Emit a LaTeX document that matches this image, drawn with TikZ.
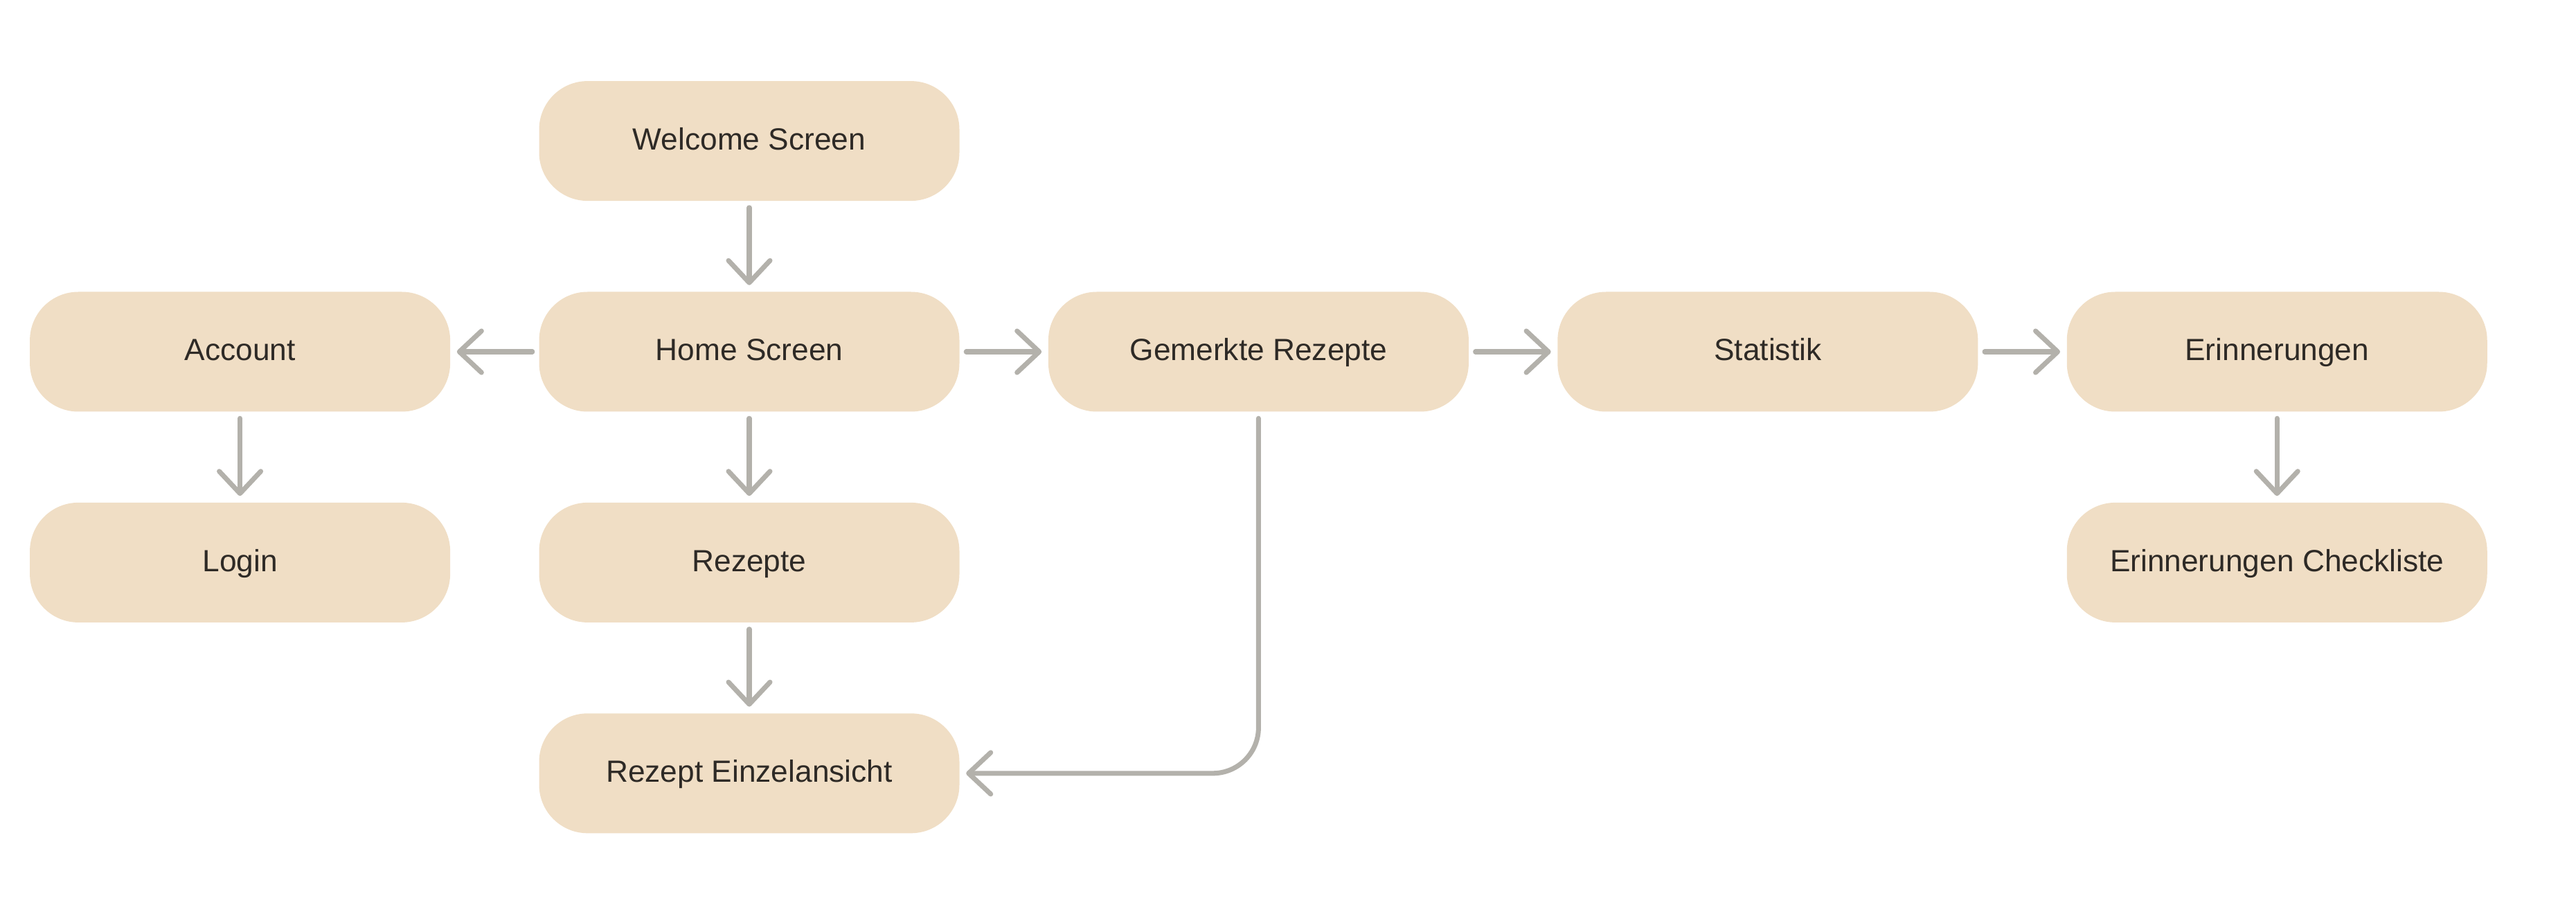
\documentclass[tikz,border=0pt]{standalone}
\usepackage{fontspec}
\setmainfont{Liberation Sans}
\usetikzlibrary{positioning, arrows.meta}

\definecolor{boxfill}{HTML}{F0DEC5}
\definecolor{arrowgray}{HTML}{B3B1AB}
\definecolor{textdark}{HTML}{2E2A26}

\tikzset{
    screen/.style={rectangle, rounded corners=0.7cm, fill=boxfill, minimum width=6.07cm,
        minimum height=1.73cm, text=textdark, text height=0.72em, text depth=0pt,
        font=\fontsize{12.6}{15}\selectfont},
    flow/.style={arrowgray, line width=2pt, line cap=round,
        -{Straight Barb[length=3.2mm, width=6mm, line width=2pt, round]},
        shorten <=0.09cm, shorten >=0.09cm}
}

\begin{document}
\begin{tikzpicture}[node distance=1.3cm and 1.27cm]
        \useasboundingbox (0,0) rectangle (37.2,-13.2);

        % Nodes
        \node[screen] (home) at (10.82,-5.08) {Home Screen};
        \node[screen] (welcome) [above=of home] {Welcome Screen};
        \node[screen] (account) [left=of home] {Account};
        \node[screen] (login) [below=of account] {Login};
        \node[screen] (rezepte) [below=of home] {Rezepte};
        \node[screen] (einzel) [below=of rezepte] {Rezept Einzelansicht};
        \node[screen] (gemerkt) [right=of home] {Gemerkte Rezepte};
        \node[screen] (statistik) [right=of gemerkt] {Statistik};
        \node[screen] (erinnerung) [right=of statistik] {Erinnerungen};
        \node[screen] (checkliste) [below=of erinnerung] {Erinnerungen Checkliste};

        % Arrows
        \draw[flow] (welcome) -- (home);
        \draw[flow] (home) -- (account);
        \draw[flow] (account) -- (login);
        \draw[flow] (home) -- (rezepte);
        \draw[flow] (rezepte) -- (einzel);
        \draw[flow] (home) -- (gemerkt);
        \draw[flow] (gemerkt) -- (statistik);
        \draw[flow] (statistik) -- (erinnerung);
        \draw[flow] (erinnerung) -- (checkliste);
        \draw[flow, rounded corners=0.66cm] (gemerkt.south) |- (einzel.east);

\end{tikzpicture}
\end{document}
